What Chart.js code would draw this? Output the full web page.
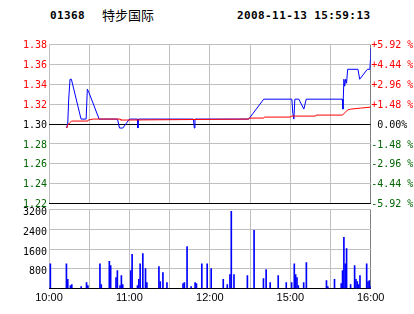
<!DOCTYPE html>
<html>
<head>
<meta charset="utf-8">
<script src="https://cdn.jsdelivr.net/npm/chart.js@4.4.1/dist/chart.umd.min.js"></script>
<style>
    body { margin: 0; background: #fff; }
    #wrap { position: relative; width: 414px; height: 314px; }
    #wrap canvas { position: absolute; left: 0; top: 0; }
    .hd { position: absolute; top: 9px; line-height: 14px; color: #000; white-space: pre; }
    .mono { font: bold 11px "DejaVu Sans Mono", monospace; letter-spacing: 0.4px; }
    .cjk { font: 13px "Noto Sans CJK SC", sans-serif; top: 6px; line-height: 18px; }
</style>
</head>
<body>
<div id="wrap">
    <div class="hd mono" style="left:50px">01368</div>
    <div class="hd cjk" style="left:102px">特步国际</div>
    <div class="hd mono" style="left:237px">2008-11-13 15:59:13</div>
    <canvas id="price-chart" width="414" height="314"></canvas>
    <canvas id="volume-chart" width="414" height="314"></canvas>
</div>
<script>
    // minutes since 10:00 (trading minutes, lunch break removed)
    var priceMinutes = [13.2, 14, 14.7, 15.7, 16.7, 23.9, 27.7, 28.6, 29.4, 37.4, 51.1, 52.6, 55.1, 60, 66, 66.3, 66.8,
        107.7, 108.4, 108.9, 149, 160.2, 181.2, 181.9, 182.7, 183.4, 186.4, 190.1, 191.9, 218.8, 219.3, 220, 220.6,
        221.3, 222, 222.8, 230.5, 231.8, 237.5, 239.4, 239.8, 240];
    var priceValues = [1.296, 1.301, 1.325, 1.345, 1.345, 1.305, 1.305, 1.335, 1.333, 1.305, 1.305, 1.296, 1.296, 1.305, 1.305, 1.296, 1.305,
        1.305, 1.296, 1.305, 1.305, 1.325, 1.325, 1.311, 1.305, 1.325, 1.325, 1.315, 1.325, 1.325, 1.315, 1.345, 1.338,
        1.345, 1.341, 1.355, 1.355, 1.345, 1.355, 1.355, 1.365, 1.376];

    var avgMinutes = [13.2, 14, 15.2, 17, 28.9, 29.2, 33.1, 53.1, 53.5, 149, 149.5, 160.2, 160.7, 180.2, 180.6, 198.9, 199.3, 219, 222.6, 225, 232.5, 240];
    var avgValues = [1.296, 1.299, 1.301, 1.303, 1.303, 1.304, 1.305, 1.305, 1.304, 1.305, 1.306, 1.306, 1.307, 1.307, 1.308, 1.308, 1.309, 1.309, 1.314, 1.315, 1.316, 1.317];

    var volMinutes = [1, 13, 14, 16, 17, 24, 28, 29, 38, 39, 45, 46, 50, 51, 53, 54, 55, 61, 62, 66, 67, 68, 70, 72, 73,
        82, 83, 85, 88, 100, 101, 103, 106, 109, 110, 114, 118, 121, 130, 133, 135, 136, 138, 148, 153,
        160, 162, 165, 171, 177, 181, 183, 184, 185, 186, 190, 192, 207, 208, 213, 218, 219, 220, 221, 222,
        225, 228, 229, 230, 231, 232, 237, 238, 239, 240];
    var volValues = [1000, 1000, 370, 120, 160, 80, 240, 120, 1000, 160, 1100, 930, 450, 730, 120, 530, 160, 730, 1380, 120, 370, 1000, 1420, 810, 240,
        890, 280, 650, 240, 200, 240, 1700, 80, 240, 200, 1000, 1000, 810, 370, 160, 570, 3120, 570, 530, 2350,
        400, 770, 240, 530, 240, 240, 1000, 570, 450, 120, 240, 1050, 320, 80, 370, 200, 730, 2070, 1000, 1620,
        160, 930, 370, 280, 160, 530, 1000, 280, 320, 80];

    var priceLabels = ['1.22', '1.24', '1.26', '1.28', '1.30', '1.32', '1.34', '1.36', '1.38'];
    var pctLabels = ['-5.92 %', '-4.44 %', '-2.96 %', '-1.48 %', ' 0.00%', '+1.48 %', '+2.96 %', '+4.44 %', '+5.92 %'];
    var volLabels = ['', '800', '1600', '2400', '3200'];
    var timeTicks = [0, 60, 120, 180, 240];
    var timeLabels = ['10:00', '11:00', '12:00', '15:00', '16:00'];

    var GRID = '#c0c0c0';
    var EDGE = '#808080';
    var tickFont = { family: 'DejaVu Sans Mono', size: 10 };

    function points(xs, ys) {
        return xs.map(function (x, i) { return { x: x, y: ys[i] }; });
    }

    function labelColor(ctx) {
        if (ctx.index < 4) return '#006400';
        if (ctx.index === 4) return '#000000';
        return '#ff0000';
    }

    function xGridColor(ctx) {
        return ctx.tick && ctx.tick.value === 240 ? EDGE : GRID;
    }

    // Price chart
    new Chart(document.getElementById('price-chart').getContext('2d'), {
        type: 'line',
        data: {
            datasets: [{
                data: points(avgMinutes, avgValues),
                borderColor: '#ff0000',
                borderWidth: 1,
                order: 0
            }, {
                data: points(priceMinutes, priceValues),
                borderColor: '#0000ff',
                borderWidth: 1,
                order: 1
            }]
        },
        options: {
            responsive: false,
            animation: false,
            events: [],
            layout: { padding: { top: 44.4, bottom: 110.3, left: 0, right: 0 } },
            elements: { point: { radius: 0 }, line: { tension: 0 } },
            plugins: { legend: { display: false }, tooltip: { enabled: false } },
            scales: {
                x: {
                    type: 'linear', min: 0, max: 240,
                    ticks: { stepSize: 30, display: false },
                    grid: { color: xGridColor, drawTicks: false },
                    border: { display: false },
                    afterFit: function (scale) { scale.height = 0; }
                },
                y: {
                    position: 'left', min: 1.22, max: 1.38,
                    ticks: {
                        stepSize: 0.02, autoSkip: false, padding: 2, labelOffset: 1,
                        font: tickFont, color: labelColor,
                        callback: function (v, i) { return priceLabels[i]; }
                    },
                    grid: {
                        drawTicks: false,
                        color: function (ctx) {
                            return (ctx.index === 0 || ctx.index === 4) ? '#000000' : GRID;
                        }
                    },
                    border: { display: false },
                    afterFit: function (scale) { scale.width = 49; }
                },
                y2: {
                    position: 'right', min: 1.22, max: 1.38,
                    ticks: {
                        stepSize: 0.02, autoSkip: false, padding: 0.5, labelOffset: 1,
                        font: tickFont, color: labelColor,
                        callback: function (v, i) { return pctLabels[i]; }
                    },
                    grid: { display: false, drawTicks: false },
                    border: { display: false },
                    afterFit: function (scale) { scale.width = 43.3; }
                }
            }
        }
    });

    // Volume chart
    new Chart(document.getElementById('volume-chart').getContext('2d'), {
        type: 'bar',
        data: {
            datasets: [{
                data: points(volMinutes, volValues),
                backgroundColor: '#0000ff',
                barThickness: 1
            }]
        },
        options: {
            responsive: false,
            animation: false,
            events: [],
            layout: { padding: { top: 209.4, bottom: 0, left: 0, right: 43.3 } },
            plugins: { legend: { display: false }, tooltip: { enabled: false } },
            scales: {
                x: {
                    type: 'linear', min: 0, max: 240, offset: false,
                    ticks: {
                        stepSize: 30, autoSkip: false, maxRotation: 0, padding: 3,
                        font: { family: 'Liberation Sans', size: 11 }, color: '#000000',
                        callback: function (v) {
                            var i = timeTicks.indexOf(v);
                            return i < 0 ? '' : timeLabels[i];
                        }
                    },
                    grid: { color: xGridColor, drawTicks: false, offset: false },
                    border: { display: false },
                    afterFit: function (scale) { scale.height = 25.4; }
                },
                y: {
                    min: 0, max: 3200,
                    ticks: {
                        stepSize: 800, autoSkip: false, padding: 2, labelOffset: 3,
                        font: tickFont, color: '#000000',
                        callback: function (v, i) { return volLabels[i]; }
                    },
                    grid: {
                        drawTicks: false,
                        color: function (ctx) { return ctx.index === 0 ? '#000000' : GRID; }
                    },
                    border: { display: false },
                    afterFit: function (scale) { scale.width = 49; }
                }
            }
        }
    });
</script>
</body>
</html>
